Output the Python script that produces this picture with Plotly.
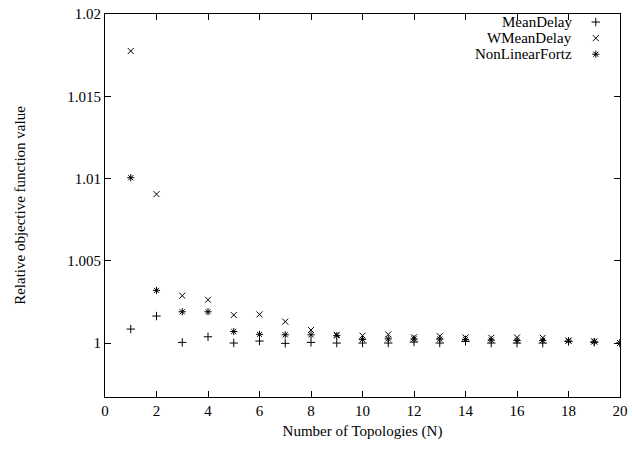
import plotly.graph_objects as go

N = list(range(1, 21))
mean_delay = [1.00085, 1.00164, 1.00004, 1.00038, 1.0, 1.00012, 0.99998, 1.00004, 1.0, 1.0,
              1.0, 1.00006, 1.0, 1.0001, 1.0, 1.0, 1.0, 1.0001, 1.00005, 1.0]
wmean_delay = [1.01775, 1.00905, 1.00288, 1.00263, 1.0017, 1.00174, 1.0013, 1.00079, 1.0005, 1.00045,
               1.00052, 1.00035, 1.00042, 1.00034, 1.00032, 1.00034, 1.00032, 1.00015, 1.0001, 1.0]
nonlinear_fortz = [1.01005, 1.0032, 1.0019, 1.0019, 1.0007, 1.00053, 1.0005, 1.0005, 1.00045, 1.00022,
                   1.00025, 1.00025, 1.00024, 1.00022, 1.00018, 1.00016, 1.00016, 1.00012, 1.00008, 1.0]
series_names = ["MeanDelay", "WMeanDelay", "NonLinearFortz"]
symbols = ["cross-thin-open", "x-thin-open", "asterisk-open"]
x_ticks = list(range(0, 21, 2))
y_ticks = [1.0, 1.005, 1.01, 1.015, 1.02]
y_tick_text = ["1", "1.005", "1.01", "1.015", "1.02"]

FONT = "Liberation Serif"
FS = 15
fig = go.Figure()
for name, vals, sym in zip(series_names, [mean_delay, wmean_delay, nonlinear_fortz], symbols):
    fig.add_trace(go.Scatter(x=N, y=vals, mode="markers", name=name, showlegend=False,
                             marker=dict(symbol=sym, size=6, color="black",
                                         line=dict(color="black", width=1))))

# legend keys (text left of symbol, gnuplot style)
leg_y = [0.979, 0.937, 0.895]
for name, sym, ly in zip(series_names, symbols, leg_y):
    fig.add_trace(go.Scatter(x=[0.953], y=[ly], xaxis="x2", yaxis="y2", mode="markers",
                             showlegend=False, hoverinfo="skip",
                             marker=dict(symbol=sym, size=6, color="black",
                                         line=dict(color="black", width=1))))
    fig.add_annotation(x=0.91, y=ly, xref="paper", yref="paper", text=name, showarrow=False,
                       xanchor="right", yanchor="middle", font=dict(family=FONT, size=FS, color="black"))

axis_common = dict(showline=True, linecolor="black", linewidth=1, mirror="ticks", ticks="inside",
                   ticklen=6, tickcolor="black", showgrid=False, zeroline=False, automargin=False,
                   tickfont=dict(family=FONT, size=FS, color="black"))
fig.update_layout(
    width=633, height=450,
    margin=dict(l=105, r=13, t=14, b=53),
    paper_bgcolor="white", plot_bgcolor="white",
    xaxis=dict(range=[0, 20], tickvals=x_ticks, **axis_common,
               title=dict(text="Number of Topologies (N)", font=dict(family=FONT, size=FS, color="black"), standoff=7)),
    yaxis=dict(range=[0.99672, 1.02], tickvals=y_ticks, ticktext=y_tick_text, **axis_common,
               title=dict(text="Relative objective function value", font=dict(family=FONT, size=FS, color="black"), standoff=38)),
    xaxis2=dict(range=[0, 1], overlaying="x", visible=False),
    yaxis2=dict(range=[0, 1], overlaying="y", visible=False),
    showlegend=False,
)
fig.write_html("out.html")
